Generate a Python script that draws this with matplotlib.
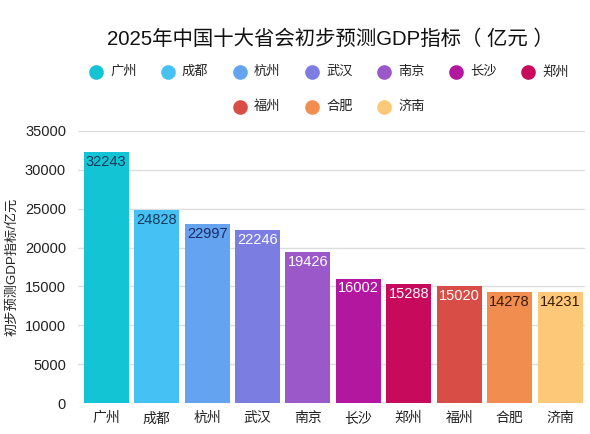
import matplotlib
matplotlib.use("Agg")
from matplotlib import pyplot as plt
from matplotlib.lines import Line2D
import numpy as np

plt.rcParams['font.family'] = ['Liberation Sans', 'Noto Sans CJK SC', 'DejaVu Sans']

cities = ['广州', '成都', '杭州', '武汉', '南京', '长沙', '郑州', '福州', '合肥', '济南']
gdp = [32243, 24828, 22997, 22246, 19426, 16002, 15288, 15020, 14278, 14231]
colors = ['#13C4D4', '#45C1F3', '#63A3F0', '#7B7DE0', '#9A58C8',
          '#B3169F', '#C80A5C', '#D84E46', '#F08D4F', '#FDC877']
label_colors = ['#17395a', '#17395a', '#1b2a66', 'white', 'white',
                'white', 'white', 'white', '#3a1a05', '#3a1a05']

fig = plt.figure(figsize=(5.9, 4.34), dpi=100)
ax = fig.add_axes([0.133, 0.0714, 0.859, 0.627])

x = np.arange(len(cities))
bars = ax.bar(x, gdp, width=0.89, color=colors, zorder=2)
for b, v, lc in zip(bars, gdp, label_colors):
    ax.annotate(str(v), (b.get_x() + b.get_width() / 2, v), xytext=(0, -2),
                textcoords='offset points', ha='center', va='top',
                fontsize=10.5, color=lc, zorder=3)

ax.set_xlim(-0.55, len(cities) - 0.5)
ax.set_ylim(0, 35000)
ax.set_yticks(np.arange(0, 35001, 5000))
ax.set_xticks(x)
ax.set_xticklabels(cities, fontsize=10)
ax.tick_params(axis='both', length=0, colors='#222222')
ax.tick_params(axis='y', labelsize=10.5, pad=9)
ax.tick_params(axis='x', pad=6)
ax.grid(axis='y', color='#dddddd', linewidth=1, zorder=0)
for s in ax.spines.values():
    s.set_visible(False)
ax.set_ylabel('初步预测GDP指标/亿元', fontsize=9.5, color='#222222', labelpad=5)

fig.text(0.56, 0.91, '2025年中国十大省会初步预测GDP指标（ 亿元 ）',
         ha='center', va='center', fontsize=14.7, color='#111111')

# legend, two rows
W, H = 590.0, 434.0
rows = [(cities[:7], colors[:7], 96, 72), (cities[7:], colors[7:], 240, 107)]
for names, cols, x0, y0 in rows:
    for i, (n, c) in enumerate(zip(names, cols)):
        px = x0 + i * 72
        fig.add_artist(Line2D([px / W], [1 - y0 / H], marker='o', markersize=9.5,
                              color=c, linestyle='none', transform=fig.transFigure))
        fig.text((px + 14) / W, 1 - y0 / H, n, ha='left', va='center',
                 fontsize=9.5, color='#222222')

fig.savefig('out.png', dpi=100)
